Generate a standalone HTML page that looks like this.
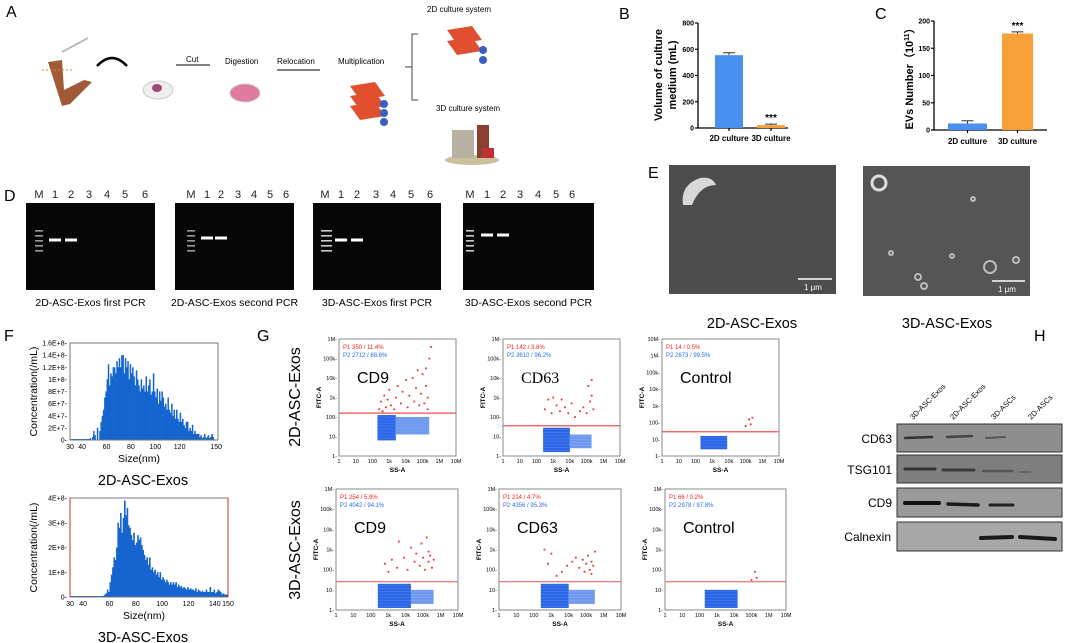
<!DOCTYPE html>
<html><head><meta charset="utf-8"><style>
html,body{margin:0;padding:0;background:#fff}
svg{display:block;font-family:"Liberation Sans",Arial,sans-serif}
</style></head><body>
<svg id="fig" width="1065" height="643" viewBox="0 0 1065 643" xmlns="http://www.w3.org/2000/svg">
<!-- Panel A -->
<g>
<text x="6" y="17" font-size="16">A</text>
<line x1="62" y1="52" x2="88" y2="38" stroke="#bbb" stroke-width="2"/>
<path d="M48,62 L62,60 L64,90 L84,80 L92,82 L70,104 L62,106 Z" fill="#a05a35"/>
<line x1="42" y1="70" x2="72" y2="70" stroke="#f08040" stroke-dasharray="2,2"/>
<path d="M97,66 Q112,50 127,66" fill="none" stroke="#000" stroke-width="2.5"/>
<ellipse cx="158" cy="90" rx="15" ry="9" fill="#eee" stroke="#ccc"/>
<ellipse cx="157" cy="88" rx="5" ry="4" fill="#9c4a7a"/>
<text x="186" y="62" font-size="8">Cut</text>
<line x1="176" y1="65" x2="210" y2="65" stroke="#000"/>
<text x="225" y="64" font-size="8">Digestion</text>
<ellipse cx="245" cy="93" rx="15" ry="9" fill="#e07aa0" stroke="#ccc"/>
<text x="277" y="64" font-size="8">Relocation</text>
<line x1="277" y1="70" x2="320" y2="70" stroke="#000"/>
<text x="338" y="64" font-size="8">Multiplication</text>
<g>
<path d="M350,86 L375,82 L385,96 L360,100Z" fill="#e05030"/><path d="M350,96 L375,92 L385,106 L360,110Z" fill="#e05030"/><path d="M350,106 L375,102 L385,116 L360,120Z" fill="#e05030"/>
<circle cx="384" cy="104" r="4" fill="#3a5fc0"/><circle cx="384" cy="113" r="4" fill="#3a5fc0"/><circle cx="384" cy="122" r="4" fill="#3a5fc0"/></g>
<path d="M418,34 L412,34 L412,100 L418,100 M412,67 L405,67" fill="none" stroke="#444"/>
<text x="427" y="12" font-size="8">2D culture system</text>
<g><path d="M447,30 L472,26 L482,40 L457,44Z" fill="#e05030"/><path d="M447,41 L472,37 L482,51 L457,55Z" fill="#e05030"/><circle cx="483" cy="50" r="4" fill="#3a5fc0"/><circle cx="483" cy="60" r="4" fill="#3a5fc0"/></g>
<text x="436" y="111" font-size="8">3D culture system</text>
<g><ellipse cx="472" cy="160" rx="27" ry="5" fill="#cdbf9a"/><rect x="452" y="130" width="22" height="28" fill="#b8b0a0"/><rect x="477" y="125" width="12" height="33" fill="#8a4030"/><rect x="482" y="148" width="12" height="10" fill="#c03030"/></g>
</g>

<!-- Panel B -->
<g>
<text x="619" y="19" font-size="16">B</text>
<g id="chartB"></g>
<text transform="translate(662,75) rotate(-90)" text-anchor="middle" font-size="11" font-weight="bold">Volume of culture</text>
<text transform="translate(676,75) rotate(-90)" text-anchor="middle" font-size="11" font-weight="bold">medium (mL)</text>
</g>
<!-- Panel C -->
<g>
<text x="875" y="19" font-size="16">C</text>
<g id="chartC"></g>
<text transform="translate(913,76) rotate(-90)" text-anchor="middle" font-size="11" font-weight="bold">EVs Number（10<tspan font-size="7" dy="-4">11</tspan><tspan dy="4">）</tspan></text>
</g>

<!-- Panel D -->
<g id="panelD">
<text x="4" y="201" font-size="16">D</text>
</g>

<!-- Panel E -->
<g>
<text x="648" y="178" font-size="16">E</text>
<rect x="669" y="165" width="167" height="129" fill="#4d4d4d"/>
<path d="M683,205 Q680,185 700,178 Q712,176 716,185 Q700,185 692,205 Z" fill="#d8d8d8"/>
<line x1="798" y1="279" x2="832" y2="279" stroke="#fff" stroke-width="1.5"/>
<text x="804" y="290" font-size="8" fill="#fff">1 μm</text>
<rect x="863" y="166" width="167" height="130" fill="#555"/>
<g fill="none" stroke="#bbb" stroke-width="2">
<circle cx="879" cy="183" r="7" stroke="#ddd" stroke-width="3"/><circle cx="990" cy="267" r="6"/><circle cx="1016" cy="260" r="3"/><circle cx="918" cy="277" r="3"/><circle cx="924" cy="286" r="3"/><circle cx="891" cy="253" r="2"/><circle cx="952" cy="256" r="2"/><circle cx="973" cy="199" r="2"/></g>
<line x1="992" y1="281" x2="1025" y2="281" stroke="#fff" stroke-width="1.5"/>
<text x="998" y="292" font-size="8" fill="#fff">1 μm</text>
<text x="752" y="328" font-size="14.5" text-anchor="middle">2D-ASC-Exos</text>
<text x="947" y="328" font-size="14.5" text-anchor="middle">3D-ASC-Exos</text>
</g>

<!-- Panel F -->
<g id="panelF">
<text x="4" y="341" font-size="16">F</text>
<text x="143" y="485" font-size="14.5" text-anchor="middle">2D-ASC-Exos</text>
<text x="143" y="642" font-size="14.5" text-anchor="middle">3D-ASC-Exos</text>
</g>

<!-- Panel G -->
<g id="panelG">
<text x="257" y="341" font-size="16">G</text>
<text transform="translate(300,397) rotate(-90)" text-anchor="middle" font-size="16">2D-ASC-Exos</text>
<text transform="translate(300,550) rotate(-90)" text-anchor="middle" font-size="16">3D-ASC-Exos</text>
</g>

<!-- Panel H -->
<g>
<text x="1034" y="341" font-size="16">H</text>
<g font-size="7.5">
<text transform="translate(913,420) rotate(-45)">3D-ASC-Exos</text>
<text transform="translate(953,420) rotate(-45)">2D-ASC-Exos</text>
<text transform="translate(994,420) rotate(-45)">3D-ASCs</text>
<text transform="translate(1031,420) rotate(-45)">2D-ASCs</text></g>
<g font-size="12" text-anchor="end">
<text x="892" y="443">CD63</text><text x="892" y="474">TSG101</text><text x="892" y="507">CD9</text><text x="891" y="541">Calnexin</text></g>
<rect x="897" y="424" width="165" height="28" fill="#8e8e8e" stroke="#333"/>
<rect x="897" y="455" width="165" height="28" fill="#7e7e7e" stroke="#333"/>
<rect x="897" y="488" width="165" height="29" fill="#9a9a9a" stroke="#333"/>
<rect x="897" y="522" width="165" height="29" fill="#a8a8a8" stroke="#333"/>
<g stroke-linecap="round">
<line x1="905" y1="438" x2="932" y2="437" stroke="#333" stroke-width="2.5"/><line x1="947" y1="437" x2="972" y2="436" stroke="#444" stroke-width="2.5"/><line x1="986" y1="438" x2="1005" y2="437" stroke="#555" stroke-width="2"/>
<line x1="905" y1="469" x2="935" y2="469" stroke="#333" stroke-width="3"/><line x1="943" y1="470" x2="974" y2="470" stroke="#3a3a3a" stroke-width="3"/><line x1="983" y1="471" x2="1012" y2="471" stroke="#555" stroke-width="2.5"/><line x1="1020" y1="472" x2="1030" y2="472" stroke="#666" stroke-width="2"/>
<line x1="905" y1="503" x2="939" y2="503" stroke="#111" stroke-width="4"/><line x1="948" y1="504" x2="978" y2="505" stroke="#1a1a1a" stroke-width="3.5"/><line x1="990" y1="505" x2="1013" y2="505" stroke="#222" stroke-width="3"/>
<line x1="981" y1="538" x2="1012" y2="537" stroke="#1a1a1a" stroke-width="4"/><line x1="1020" y1="537" x2="1055" y2="539" stroke="#1a1a1a" stroke-width="4"/></g>
</g>
</svg>
<script>
// ===== Data =====
const barCats = ["2D culture", "3D culture"];
const bVals = [555, 22];
const bErr = [18, 8];
const bTicks = [0, 200, 400, 600, 800];
const cVals = [12, 177];
const cErr = [5, 3];
const cTicks = [0, 50, 100, 150, 200];
const barColors = ["#4a90f0", "#f7a03a"];

const gelLanes = ["M", "1", "2", "3", "4", "5", "6"];
const gelCaptions = ["2D-ASC-Exos first PCR", "2D-ASC-Exos second PCR", "3D-ASC-Exos first PCR", "3D-ASC-Exos second PCR"];

const h2dSizes = [46,48,49,50,52,54,55,56,57,58,59,60,61,62,63,64,65,66,67,68,69,70,71,72,73,74,75,76,77,78,79,80,81,82,83,84,85,86,87,88,89,90,91,92,93,94,95,96,97,98,99,100,101,102,103,104,105,106,107,108,109,110,111,112,113,114,115,116,117,118,119,120,121,122,123,124,125,126,127,128,129,130,131,132,133,134,135,136,137,138,139,140,141,142,143,144,145,146,147];
const h2dVals = [0.3,0.5,1.5,0.8,2,1.5,3,4,5,7,8,10,12.5,9,11,10.5,12,12,11,13,12,13.5,12,14,14,11,13.5,12,13,10,12.5,11,12,10.5,9,11.5,10,9,8,10,8.5,9,8,10.5,8,9,10,7.5,8,11,8,7,8.5,6,8,6.5,8,7,5.5,6,5,7,5,4.5,6,4,5,3.5,5,3.5,3,4.5,3,3.5,2.5,2,3,3,1.5,2,1.5,2.5,1,1.5,1,1,1,0.5,0.8,0.3,0.5,1,0.3,0.5,0.8,0.3,0.5,1,0.5]; // x1E+7
const h2dTicks = ["0","2E+7","4E+7","6E+7","8E+7","1E+8","1.2E+8","1.4E+8","1.6E+8"];
const h3dSizes = [55,56,57,58,59,60,61,62,63,64,65,66,67,68,69,70,71,72,73,74,75,76,77,78,79,80,81,82,83,84,85,86,87,88,89,90,91,92,93,94,95,96,97,98,99,100,101,102,103,104,105,106,107,108,109,110,111,112,113,114,115,116,117,118,119,120,121,122,123,124,125,126,127,128,129,130,131,132,133,134,135,136,137,138,139,140,141,142,143,144,145,146,147,148,149];
const h3dVals = [0.05,0.1,0.15,0.3,0.2,0.6,0.9,1.2,1.6,1.5,2.0,3.0,2.8,3.4,2.6,3.2,3.9,3.3,3.6,2.9,2.8,2.5,2.3,2.6,2.1,2.2,2.5,2.3,2.4,2.1,1.9,1.7,1.5,1.6,1.3,1.6,1.1,1.2,1.0,1.1,0.9,1.0,0.8,1.0,0.7,0.8,0.7,0.6,0.7,0.6,0.5,0.6,0.5,0.6,0.5,0.6,0.4,0.5,0.4,0.45,0.35,0.4,0.35,0.3,0.4,0.3,0.35,0.3,0.3,0.25,0.35,0.2,0.3,0.25,0.2,0.25,0.2,0.2,0.3,0.2,0.2,0.4,0.2,0.2,0.3,0.15,0.2,0.3,0.25,0.2,0.1,0.15,0.1,0.1,0.1]; // x1E+8
const h3dTicks = ["0","1E+8","2E+8","3E+8","4E+8"];
const sizeTicks = [30,40,60,80,100,120,150];
const sizeTicks3 = [30,40,60,80,100,120,140,150];

const flowXTicks = ["1","10","100","1k","10k","100k","1M","10M"];
const flowYTicks = ["1","10","100","1k","10k","100k","1M","10M"];
const flowMarkers = ["CD9","CD63","Control","CD9","CD63","Control"];
const flowP1 = ["P1  350 / 11.4%","P1  142 / 3.8%","P1  14 / 0.5%","P1  254 / 5.9%","P1  214 / 4.7%","P1  66 / 0.2%"];
const flowP2 = ["P2  2712 / 88.6%","P2  3610 / 96.2%","P2  2673 / 99.5%","P2  4042 / 94.1%","P2  4356 / 95.3%","P2  2978 / 97.8%"];
const flowThresh = [2.2, 1.55, 1.45, 1.4, 1.4, 1.4]; // log10 FITC
// blue clouds: [xmin,xmax,ymin,ymax] log10
const blueCd9a = [[2.3,3.4,0.8,2.1],[3.4,5.4,1.1,2.0]];
const blueCd63a = [[2.4,4.0,0.2,1.45],[4.0,5.3,0.4,1.1]];
const blueCtla = [[2.3,3.9,0.4,1.2]];
const blueCd9b = [[2.4,4.3,0.1,1.3],[4.3,5.6,0.3,1.0]];
const blueCd63b = [[2.4,4.0,0.1,1.3],[4.0,5.5,0.3,1.0]];
const blueCtlb = [[2.3,4.2,0.1,1.0]];
// red events: [x,y] log10
const redCd9a = [[2.4,2.4],[2.5,2.8],[2.6,2.3],[2.7,3.1],[2.8,2.5],[2.9,2.9],[3.0,3.4],[3.1,2.6],[3.3,2.4],[3.4,3.0],[3.5,3.6],[3.7,2.7],[3.8,3.3],[4.0,3.9],[4.1,2.5],[4.2,3.1],[4.4,4.0],[4.5,2.8],[4.6,3.5],[4.8,2.6],[4.9,3.2],[5.0,4.2],[5.1,2.7],[5.2,3.6],[5.3,2.4],[5.2,4.5],[5.4,5.0],[5.5,5.6],[5.3,3.0],[4.7,4.4]];
const redCd63a = [[2.5,2.4],[2.7,2.9],[2.9,2.2],[3.0,3.0],[3.2,2.6],[3.4,2.3],[3.5,2.9],[3.7,2.5],[3.9,2.2],[4.1,2.7],[4.3,2.0],[4.6,2.3],[4.8,2.5],[5.0,2.2],[5.2,2.8],[5.3,3.1],[5.1,3.6],[5.4,2.4],[5.3,3.9]];
const redCtla = [[5.0,1.8],[5.2,2.2],[5.4,2.3],[5.3,1.9]];
const redCd9b = [[2.8,2.3],[3.0,1.9],[3.2,2.5],[3.5,2.1],[3.6,3.4],[3.9,2.6],[4.1,2.0],[4.3,3.1],[4.5,2.4],[4.6,2.8],[4.8,2.2],[4.9,3.3],[5.0,2.6],[5.1,2.0],[5.2,3.6],[5.3,2.4],[5.4,2.7],[5.5,2.1],[5.3,2.9],[5.6,2.5]];
const redCd63b = [[2.6,3.0],[2.8,2.3],[3.0,2.8],[3.3,1.7],[3.6,1.9],[3.9,2.2],[4.2,2.4],[4.4,2.6],[4.6,2.1],[4.8,2.5],[4.9,1.9],[5.0,2.3],[5.1,2.7],[5.2,2.0],[5.3,2.4],[5.4,2.2],[5.5,2.9],[5.3,1.8]];
const redCtlb = [[5.0,1.5],[5.2,1.9],[5.3,1.6]];

// ===== Helpers =====
const NS = "http://www.w3.org/2000/svg";
function mk(tag, attrs, parent) {
  const e = document.createElementNS(NS, tag);
  for (const k in attrs) e.setAttribute(k, attrs[k]);
  parent.appendChild(e);
  return e;
}
function txt(parent, x, y, s, size, extra) {
  const t = mk("text", Object.assign({x: x, y: y, "font-size": size}, extra || {}), parent);
  t.textContent = s;
  return t;
}

// ===== Bar charts =====
function barChart(g, ax, y0, yTop, max, ticks, vals, errs, bx, bw, xr, labY) {
  const ys = v => y0 - v / max * (y0 - yTop);
  const axis = mk("path", {d: `M${ax},${yTop} L${ax},${y0} L${xr},${y0}`, fill: "none", stroke: "#000", "stroke-width": 1.3}, g);
  
  
  ticks.forEach(t => {
    mk("line", {x1: ax - 3, x2: ax, y1: ys(t), y2: ys(t), stroke: "#000", "stroke-width": 1.2}, g);
    const l = txt(g, ax - 4, ys(t) + 2.5, String(t), 7, {"text-anchor": "end", "font-weight": "bold"});
    
    
  });
  vals.forEach((v, i) => {
    const r = mk("rect", {x: bx[i], y: ys(v), width: bw[i], height: y0 - ys(v), fill: barColors[i]}, g);
    
    
    const cx = bx[i] + bw[i] / 2;
    mk("path", {d: `M${cx},${ys(v)} L${cx},${ys(v + errs[i])} M${cx - 6},${ys(v + errs[i])} L${cx + 6},${ys(v + errs[i])}`, stroke: "#333", fill: "none"}, g);
    mk("line", {x1: cx, x2: cx, y1: y0, y2: y0 + 3, stroke: "#000", "stroke-width": 1.2}, g);
    const l = txt(g, cx, labY, barCats[i], 8, {"text-anchor": "middle", "font-weight": "bold"});
    
    
  });
  const st = txt(g, bx[1] + bw[1] / 2, ys(vals[1] + errs[1]) - 3, "***", 10, {"text-anchor": "middle", "font-weight": "bold"});
  
  
}
barChart(document.getElementById("chartB"), 698, 128, 23, 800, bTicks, bVals, bErr, [715, 757], [28, 28], 788, 141);
barChart(document.getElementById("chartC"), 934, 130, 21, 200, cTicks, cVals, cErr, [948, 1002], [39, 31], 1047, 144);

// ===== Gels =====
const gD = document.getElementById("panelD");
const gelX = [26, 175, 313, 463], gelW = [129, 119, 128, 131];
const gelLaneX = [[39,55,71,89,107,125,145],[191,207,221,238,254,270,286],[325,341,357,376,393,411,430],[470,487,503,520,538,556,572]];
const gelBandY = [240, 238, 240, 235];
gelX.forEach((x, gi) => {
  const r = mk("rect", {x: x, y: 203, width: gelW[gi], height: 87, fill: "#060606"}, gD);
  
  
  gelLanes.forEach((ln, li) => {
    const t = txt(gD, gelLaneX[gi][li], 198, ln, 11, {"text-anchor": "middle", fill: "#222"});
    
    
  });
  for (let k = 0; k < 5; k++) mk("rect", {x: gelLaneX[gi][0] - 4, y: 230 + k * 5, width: gi === 2 ? 11 : 8, height: 1.6, fill: gi >= 2 ? "#ccc" : "#999"}, gD);
  [1, 2].forEach(li => {
    const b = mk("rect", {x: gelLaneX[gi][li] - 6, y: gelBandY[gi] - 1.5, width: 12, height: 3, fill: "#fff"}, gD);
    
    
  });
  const c = txt(gD, x + gelW[gi] / 2, 306, gelCaptions[gi], 10.5, {"text-anchor": "middle"});
  
  
});

// ===== Histograms =====
const gF = document.getElementById("panelF");
function hist(L, R, T, B, sMin, sMax, vMax, ticks, sizes, vals, xt, redSides) {
  const xs = s => L + (s - sMin) / (sMax - sMin) * (R - L);
  const ys = v => B - v / vMax * (B - T);
  mk("line", {x1: L, x2: xs(sizes[0]), y1: B - 0.5, y2: B - 0.5, stroke: "#1565d0"}, gF);
  sizes.forEach((s, i) => {
    const r = mk("rect", {x: xs(s), y: ys(vals[i]), width: xs(s + 1) - xs(s) + 0.3, height: B - ys(vals[i]), fill: "#1565d0"}, gF);
    
    
  });
  const fr = mk("rect", {x: L, y: T, width: R - L, height: B - T, fill: "none", stroke: "#777"}, gF);
  
  
  if (redSides) { mk("line", {x1: L, x2: L, y1: T, y2: B, stroke: "#c03020"}, gF); mk("line", {x1: R, x2: R, y1: T, y2: B, stroke: "#c03020"}, gF); }
  const n = ticks.length - 1;
  ticks.forEach((t, i) => {
    const y = B - i / n * (B - T);
    const l = txt(gF, L - 3, y + 2.5, t + "-", 7, {"text-anchor": "end"});
    
    
  });
  xt.forEach(t => {
    const l = txt(gF, xs(t), B + 9, String(t), 7, {"text-anchor": "middle"});
    
    
  });
  const xl = txt(gF, (L + R) / 2 - 5, B + 22, "Size(nm)", 10.5, {"text-anchor": "middle"});
  
  
  const yl = txt(gF, 0, 0, "Concentration(/mL)", 10.5, {"text-anchor": "middle", transform: `translate(37,${(T + B) / 2}) rotate(-90)`});
  
  
}
hist(70, 218, 343, 440, 30, 151.5, 16, h2dTicks, h2dSizes, h2dVals, sizeTicks, false);
hist(70, 228, 498, 597, 30, 150, 4, h3dTicks, h3dSizes, h3dVals, sizeTicks3, true);

// ===== Flow cytometry =====
const gG = document.getElementById("panelG");
const flowFrames = [[339,456,339,456,6],[503,620,339,456,6],[662,779,339,456,7],[336,458,489,610,6],[499,621,489,610,6],[665,786,489,610,6]];
const flowBlue = [blueCd9a, blueCd63a, blueCtla, blueCd9b, blueCd63b, blueCtlb];
const flowRed = [redCd9a, redCd63a, redCtla, redCd9b, redCd63b, redCtlb];
flowFrames.forEach((f, pi) => {
  const [L, R, T, B, yd] = f;
  const xs = v => L + v / 7 * (R - L);
  const ys = v => B - v / yd * (B - T);
  const g = mk("g", {}, gG);
  
  
  flowBlue[pi].forEach((b, bi) => {
    const r = mk("rect", {x: xs(b[0]), y: ys(b[3]), width: xs(b[1]) - xs(b[0]), height: ys(b[2]) - ys(b[3]), fill: bi === 0 ? "#2a66e6" : "#6f98ee"}, g);
    
    
    for (let yy = ys(b[3]) + 2; yy < ys(b[2]); yy += 3) mk("line", {x1: xs(b[0]), x2: xs(b[1]), y1: yy, y2: yy, stroke: "#fff", "stroke-width": 0.3, opacity: 0.35}, g);
  });
  flowRed[pi].forEach(p => {
    const c = mk("rect", {x: xs(p[0]) - 0.8, y: ys(p[1]) - 0.8, width: 1.8, height: 1.8, fill: "#f03030"}, g);
    
    
  });
  const th = mk("line", {x1: L, x2: R, y1: ys(flowThresh[pi]), y2: ys(flowThresh[pi]), stroke: "#f05050", "stroke-width": pi < 3 ? 1.3 : 1}, g);
  
  
  mk("rect", {x: L, y: T, width: R - L, height: B - T, fill: "none", stroke: "#888"}, g);
  for (let i = 0; i <= yd; i++) {
    const l = txt(g, L - 2, ys(i) + 2, flowYTicks[i] + "-", 5.5, {"text-anchor": "end"});
    
    
  }
  for (let i = 0; i <= 7; i++) {
    const l = txt(g, xs(i), B + 7, flowXTicks[i], 5.5, {"text-anchor": "middle"});
    
    
  }
  const xl = txt(g, (L + R) / 2, B + 16, "SS-A", 6.5, {"text-anchor": "middle", "font-weight": "bold"});
  
  
  const yl = txt(g, 0, 0, "FITC-A", 6.5, {"text-anchor": "middle", "font-weight": "bold", transform: `translate(${L - 18},${(T + B) / 2}) rotate(-90)`});
  
  
  const p1 = txt(g, L + 4, T + 10, flowP1[pi], 6, {fill: "#f02020"});
  
  
  const p2 = txt(g, L + 4, T + 18, flowP2[pi], 6, {fill: "#2a6af0"});
  
  
  const mkr = txt(g, L + 18, T + 44, flowMarkers[pi], 16, pi === 1 ? {"font-family": "Liberation Serif, serif"} : {});
  
  
});
</script>
</body></html>
